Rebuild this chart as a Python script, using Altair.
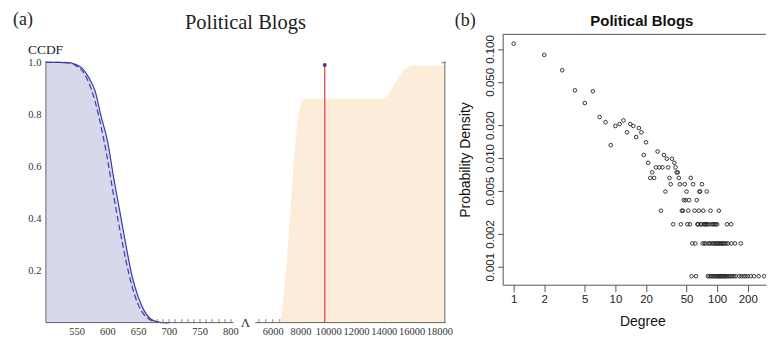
import altair as alt
import pandas as pd

# ---------------- data ----------------
# Panel (a), left: CCDF curves (solid and dashed)
ccdf_lambda = [500, 520, 540, 550, 560, 570, 580, 590, 600, 610, 620, 630, 640, 650, 660, 670, 680, 690, 700]
ccdf_solid = [1.0, 1.0, 0.998, 0.99, 0.975, 0.94, 0.89, 0.79, 0.70, 0.56, 0.43, 0.30, 0.18, 0.10, 0.045, 0.015, 0.004, 0.0, 0.0]
ccdf_dashed = [1.0, 1.0, 0.997, 0.985, 0.965, 0.92, 0.85, 0.75, 0.63, 0.49, 0.36, 0.24, 0.14, 0.07, 0.03, 0.01, 0.002, 0.0, 0.0]

# Panel (a), right: shaded CCDF and observed value
ccdf2_lambda = [4750, 6550, 6700, 6900, 7100, 7300, 7500, 7700, 7900, 8100, 8300, 13800, 14100, 14400,
                14700, 15000, 15300, 15600, 15900, 16100, 18400]
ccdf2_value = [0, 0, 0.06, 0.17, 0.30, 0.45, 0.60, 0.73, 0.81, 0.848, 0.861, 0.861, 0.866, 0.882,
               0.91, 0.937, 0.962, 0.976, 0.984, 0.987, 0.987]
observed_lambda = [9750]
observed_ccdf = [0.99]

# Panel (b): degree distribution (degree, number of nodes), N nodes
n_nodes = 1222
degree = [1, 2, 3, 4, 5, 6, 7, 8, 9, 10, 11, 12, 13, 14, 15, 16, 17, 18, 19, 20,
          21, 22, 23, 24, 25, 26, 27, 28, 29, 30, 31, 32, 33, 34, 35, 36, 37, 38, 39, 40,
          41, 42, 43, 44, 45, 46, 47, 48, 49, 50, 51, 52, 53, 54, 55, 56, 57, 58, 60, 61,
          62, 63, 64, 65, 66, 67, 68, 69, 70, 71, 72, 73, 74, 75, 76, 77, 78, 79, 80, 81,
          82, 83, 84, 85, 86, 87, 88, 89, 90, 91, 92, 93, 94, 95, 96, 97, 98, 99, 100, 101,
          102, 103, 104, 105, 106, 107, 109, 110, 112, 113, 115, 116, 118, 119, 122, 123, 125, 126, 128, 130,
          135, 137, 138, 140, 146, 150, 152, 165, 171, 173, 182, 190, 200, 214, 230, 256, 290, 350]
count = [137, 108, 78, 51, 39, 50, 29, 26, 16, 24, 25, 27, 21, 25, 24, 19, 23, 21, 13, 17,
         11, 8, 9, 8, 10, 14, 10, 4, 10, 13, 6, 12, 10, 8, 7, 12, 3, 11, 10, 9,
         9, 8, 7, 3, 4, 4, 5, 7, 5, 6, 3, 4, 5, 3, 8, 1, 2, 7, 4, 2,
         1, 5, 3, 3, 4, 6, 6, 3, 3, 7, 2, 4, 3, 2, 3, 2, 3, 6, 3, 1,
         2, 3, 1, 2, 4, 1, 3, 2, 1, 3, 2, 1, 3, 2, 1, 3, 2, 1, 3, 2,
         1, 2, 4, 1, 2, 1, 2, 1, 2, 1, 2, 1, 2, 1, 1, 2, 3, 1, 2, 1,
         1, 3, 2, 1, 1, 2, 1, 1, 2, 1, 1, 1, 1, 1, 1, 1, 1, 1]

x_ticks_b = [1, 2, 5, 10, 20, 50, 100, 200]
y_ticks_b = [0.001, 0.002, 0.005, 0.01, 0.02, 0.05, 0.1]

# ---------------- style ----------------
SERIF = "Liberation Serif"
SANS = "Liberation Sans"
LAV = "#d8d8ec"
PEACH = "#fcedda"
BLUE = "#3c3ca8"
AXC = "#666666"
W1, W2, WB = 188, 190, 264
EXTRA = 36
W2P = W2 + EXTRA
HA, HB = 289, 251
UNIT = 261
YTOP = HA / UNIT
X2MIN, X2MAX = 4750, 18400
X2DOM = X2MAX + (X2MAX - X2MIN) * EXTRA / W2
XB_MIN = 0.78
XB_MAX = XB_MIN * 10 ** (WB / 102)   # 102 px per decade

one = pd.DataFrame({"k": [0]})

df1 = pd.DataFrame({
    "lam": ccdf_lambda + ccdf_lambda,
    "ccdf": ccdf_solid + ccdf_dashed,
    "kind": ["solid"] * len(ccdf_lambda) + ["dashed"] * len(ccdf_lambda),
})
df2 = pd.DataFrame({"lam": ccdf2_lambda, "ccdf": ccdf2_value})
dfo = pd.DataFrame({"lam": observed_lambda, "ccdf": observed_ccdf, "zero": [0.0]})
dfb = pd.DataFrame({"deg": degree, "p": [c / n_nodes for c in count]})

# ---------------- panel (a) left ----------------
x1 = alt.X("lam:Q", scale=alt.Scale(domain=[500, 805], nice=False, zero=False),
           axis=alt.Axis(title=None, values=list(range(510, 801, 10)),
                         labelExpr="datum.value % 50 == 0 ? datum.label : ''",
                         domain=False, grid=False, offset=-4, tickSize=4, tickColor=AXC, tickWidth=0.8,
                         labelPadding=4, labelFont=SERIF, labelFontSize=10.5, labelColor="#333",
                         labelFlush=False, labelOverlap=False))
y1 = alt.Y("ccdf:Q", scale=alt.Scale(domain=[0, YTOP], nice=False, zero=True),
           axis=alt.Axis(title=None, values=[round(0.05 * i, 2) for i in range(1, 21)],
                         labelExpr="round(datum.value*100) % 20 == 0 ? format(datum.value, '.1f') : ''",
                         domain=False, grid=False, offset=-4, tickSize=4, tickColor=AXC, tickWidth=0.8,
                         labelPadding=5, labelFont=SERIF, labelFontSize=10.5, labelColor="#333",
                         labelFlush=False, labelOverlap=False))

a1_area = alt.Chart(df1).transform_filter("datum.kind == 'solid'").mark_area(
    color=LAV, interpolate="monotone").encode(x=x1, y=y1)
a1_solid = alt.Chart(df1).transform_filter("datum.kind == 'solid'").mark_line(
    color=BLUE, strokeWidth=1.2, interpolate="monotone").encode(x=x1, y=y1)
a1_dash = alt.Chart(df1).transform_filter("datum.kind == 'dashed'").mark_line(
    color=BLUE, strokeWidth=1.2, strokeDash=[6, 3], interpolate="monotone").encode(x=x1, y=y1)
a1_xline = alt.Chart(one).mark_rule(color=AXC, strokeWidth=1).encode(
    x=alt.value(0), x2=alt.value(W1), y=alt.value(HA))
a1_yline = alt.Chart(one).mark_rule(color=AXC, strokeWidth=1).encode(
    x=alt.value(0), y=alt.value(HA), y2=alt.value(HA - 1.005 * UNIT))
# white anchor fixing the left edge of the drawing
a1_anchor = alt.Chart(one).mark_rule(color="#ffffff", strokeWidth=1).encode(
    x=alt.value(-37), y=alt.value(100), y2=alt.value(110))

lab_a = alt.Chart(one).mark_text(font=SERIF, fontSize=18, align="left", baseline="top", color="#222").encode(
    x=alt.value(-33), y=alt.value(-23), text=alt.value("(a)"))
title_a = alt.Chart(one).mark_text(font=SERIF, fontSize=20.5, align="center", baseline="alphabetic", color="#222").encode(
    x=alt.value(200), y=alt.value(-5), text=alt.value("Political Blogs"))
ccdf_lab = alt.Chart(one).mark_text(font=SERIF, fontSize=13.5, align="left", baseline="alphabetic", color="#222").encode(
    x=alt.value(-18), y=alt.value(20), text=alt.value("CCDF"))
lam_lab = alt.Chart(one).mark_text(font=SERIF, fontSize=13, align="center", baseline="middle", color="#333").encode(
    x=alt.value(200), y=alt.value(HA), text=alt.value("Λ"))

a1 = alt.layer(a1_area, a1_solid, a1_dash, a1_xline, a1_yline, a1_anchor,
               lab_a, title_a, ccdf_lab, lam_lab).properties(width=W1, height=HA)

# ---------------- panel (a) right ----------------
x2 = alt.X("lam:Q", scale=alt.Scale(domain=[X2MIN, X2DOM], nice=False, zero=False),
           axis=alt.Axis(title=None, values=list(range(5000, 18001, 500)),
                         labelExpr="(datum.value % 2000 == 0 && datum.value >= 6000) ? format(datum.value, 'd') : ''",
                         domain=False, grid=False, offset=-4, tickSize=4, tickColor=AXC, tickWidth=0.8,
                         labelPadding=4, labelFont=SERIF, labelFontSize=10.5, labelColor="#333",
                         labelFlush=False, labelOverlap=False))
y2 = alt.Y("ccdf:Q", scale=alt.Scale(domain=[0, YTOP], nice=False, zero=True),
           axis=alt.Axis(title=None, orient="right", values=[round(0.05 * i, 2) for i in range(1, 21)],
                         labels=False, domain=False, grid=False, offset=-(EXTRA + 4), tickSize=4,
                         tickColor=AXC, tickWidth=0.8))

a2_area = alt.Chart(df2).mark_area(color=PEACH, interpolate="monotone").encode(x=x2, y=y2)
a2_red = alt.Chart(dfo).mark_rule(color="#e8383d", strokeWidth=1.2).encode(x=x2, y=y2, y2="zero:Q")
a2_dot = alt.Chart(dfo).mark_circle(color=BLUE, size=16, opacity=1).encode(x=x2, y=y2)
a2_xline = alt.Chart(one).mark_rule(color=AXC, strokeWidth=1).encode(
    x=alt.value(0), x2=alt.value(W2 + 1), y=alt.value(HA))
a2_yline = alt.Chart(one).mark_rule(color=AXC, strokeWidth=1).encode(
    x=alt.value(W2), y=alt.value(HA), y2=alt.value(HA - 1.005 * UNIT))

a2 = alt.layer(a2_area, a2_red, a2_dot, a2_xline, a2_yline).properties(width=W2P, height=HA)

# ---------------- panel (b) ----------------
xb = alt.X("deg:Q", scale=alt.Scale(type="log", domain=[XB_MIN, XB_MAX], nice=False),
           axis=alt.Axis(title="Degree", values=x_ticks_b, format="d", grid=False,
                         domainColor="#555", domainWidth=1, tickColor="#555", tickSize=7, tickWidth=1,
                         labelPadding=2, labelFont=SANS, labelFontSize=11.5, labelColor="#222",
                         labelFlush=False, labelOverlap=False,
                         titleFont=SANS, titleFontSize=14, titleFontWeight="normal", titleColor="#111",
                         titlePadding=9, titleX=140))
yb = alt.Y("p:Q", scale=alt.Scale(type="log", domain=[0.000684, 0.1364], nice=False),
           axis=alt.Axis(title="Probability Density", values=y_ticks_b, format=".3f", grid=False,
                         labelAngle=270, labelAlign="center", labelBaseline="bottom",
                         domainColor="#555", domainWidth=1, tickColor="#555", tickSize=5, tickWidth=1,
                         labelPadding=2, labelFont=SANS, labelFontSize=11.5, labelColor="#222",
                         labelFlush=False, labelOverlap=False,
                         titleFont=SANS, titleFontSize=14, titleFontWeight="normal", titleColor="#111",
                         titlePadding=12))

b_pts = alt.Chart(dfb).mark_point(shape="circle", filled=False, size=13, strokeWidth=0.9,
                                  color="#222", opacity=1, clip=True).encode(x=xb, y=yb)
b_top = alt.Chart(one).mark_rule(color="#555", strokeWidth=1).encode(
    x=alt.value(0), x2=alt.value(WB), y=alt.value(0))
# white anchor fixing the top edge of the drawing
b_anchor = alt.Chart(one).mark_rule(color="#ffffff", strokeWidth=1).encode(
    x=alt.value(-10), y=alt.value(-25), y2=alt.value(-20))
lab_b = alt.Chart(one).mark_text(font=SERIF, fontSize=18, align="left", baseline="top", color="#222").encode(
    x=alt.value(-48), y=alt.value(-22), text=alt.value("(b)"))
title_b = alt.Chart(one).mark_text(font=SANS, fontSize=15, fontWeight="bold", align="center",
                                   baseline="alphabetic", color="#111").encode(
    x=alt.value(139.5), y=alt.value(-8), text=alt.value("Political Blogs"))

b = alt.layer(b_pts, b_top, b_anchor, lab_b, title_b).properties(width=WB, height=HB)

chart = alt.hconcat(a1, a2, b, spacing=22, bounds="flush").properties(
    padding=0
).configure_view(strokeWidth=0)

chart.save("out.html", embed_options={"renderer": "svg", "actions": False})
